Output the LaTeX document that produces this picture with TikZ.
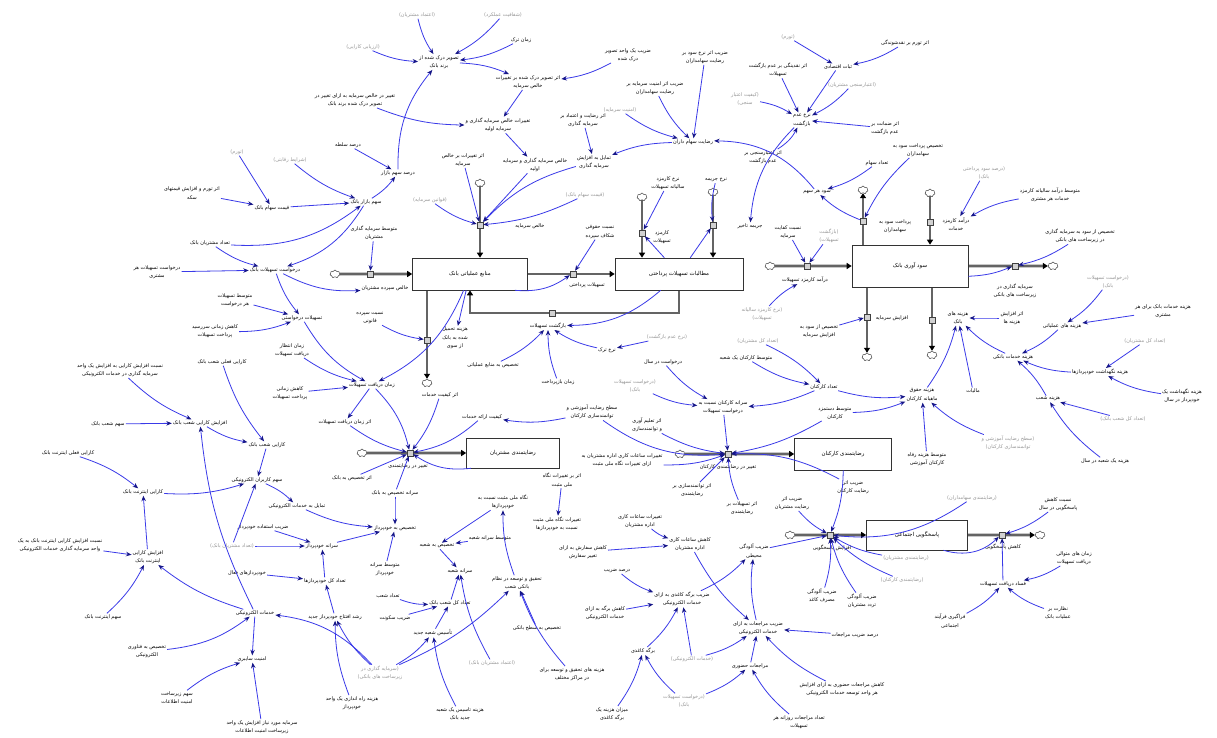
\documentclass[tikz,border=0pt]{standalone}
\usepackage{fontspec}
\usetikzlibrary{arrows.meta,shapes.symbols,backgrounds}
\TeXXeTstate=1
\newfontfamily\arabicfont[Script=Arabic]{DejaVu Sans}
\newcommand\cx[3]{\draw[lnk] (#1) to[bend left=#3] (#2);}
\definecolor{lnkc}{RGB}{58,58,232}
\definecolor{headc}{RGB}{22,22,135}
\definecolor{ghost}{RGB}{150,150,150}
\definecolor{pipec}{RGB}{100,100,100}
\tikzset{
  v/.style={font=\fontsize{5}{8.5}\selectfont\arabicfont, align=center, inner sep=1pt, text=black},
  gv/.style={v, text=ghost},
  stock/.style={draw=black!80, line width=0.6pt, fill=white, font=\fontsize{5.5}{7}\selectfont\arabicfont},
  pipe/.style={draw=pipec, line width=2.6pt, -{Triangle[length=5pt,width=6pt,color=black]}},
  valve/.style={draw=black!75, fill=black!18, minimum width=6pt, minimum height=6pt, inner sep=0pt, line width=0.5pt},
  cld/.style={cloud, cloud puffs=7, aspect=1.3, draw=black!75, fill=white, minimum width=10pt, minimum height=8pt, inner sep=0pt, line width=0.5pt},
  lnk/.style={draw=lnkc, line width=0.8pt, -{Stealth[length=5.5pt,width=4.5pt,color=headc]}},
}
\begin{document}
\begin{tikzpicture}[x=1pt,y=-1pt]
\useasboundingbox (0,0) rectangle (1217,738);

% ---------- stocks ----------
\node[stock, minimum width=115pt, minimum height=32pt] (S1) at (470,274) {\beginR منابع عملیاتی بانک\endR};
\node[stock, minimum width=128pt, minimum height=32pt] (S2) at (679,274) {\beginR مطالبات تسهیلات پرداختی\endR};
\node[stock, minimum width=116pt, minimum height=42pt] (S3) at (910,266) {\beginR سود آوری بانک\endR};
\node[stock, minimum width=93pt, minimum height=30pt] (S4) at (513,453) {\beginR رضایتمندی مشتریان\endR};
\node[stock, minimum width=97pt, minimum height=32pt] (S5) at (843,454) {\beginR رضایتمندی کارکنان\endR};
\node[stock, minimum width=101pt, minimum height=30pt] (S6) at (917,535) {\beginR پاسخگویی اجتماعی\endR};

% ---------- clouds ----------
\node[cld] (c1) at (335,274) {};
\node[cld] (c2) at (480,183) {};
\node[cld] (c3) at (427,383) {};
\node[cld] (c4) at (642,197) {};
\node[cld] (c5) at (713,192) {};
\node[cld] (c6) at (770,266) {};
\node[cld] (c7) at (863,190) {};
\node[cld] (c8) at (930,193) {};
\node[cld] (c9) at (1053,266) {};
\node[cld] (c10) at (867,357) {};
\node[cld] (c11) at (932,355) {};
\node[cld] (c12) at (362,453) {};
\node[cld] (c13) at (680,454) {};
\node[cld] (c14) at (790,535) {};
\node[cld] (c15) at (1040,535) {};

% ---------- valves ----------
\node[valve] (f1) at (370,274) {};
\node[valve] (f2) at (480,225) {};
\node[valve] (f3) at (427,340) {};
\node[valve] (f4) at (573,274) {};
\node[valve] (f5) at (552,313) {};
\node[valve] (f6) at (642,233) {};
\node[valve] (f7) at (713,225) {};
\node[valve] (f8) at (807,266) {};
\node[valve] (f9) at (863,221) {};
\node[valve] (f10) at (930,222) {};
\node[valve] (f11) at (1015,266) {};
\node[valve] (f12) at (867,317) {};
\node[valve] (f13) at (932,320) {};
\node[valve] (f14) at (410,453) {};
\node[valve] (f15) at (728,454) {};
\node[valve] (f16) at (830,535) {};
\node[valve] (f17) at (1002,535) {};

% ---------- pipes ----------
\begin{scope}[on background layer]
\fill[white] (0,0) rectangle (1217,738);
\draw[pipe] (c1) -- (S1);
\draw[pipe] (c2) -- (c2 |- S1.north);
\draw[pipe] (c3 |- S1.south) -- (c3);
\draw[pipe] (S1) -- (S2);
\draw[pipe] (S2.south) |- (f5.center) -| (S1.south);
\draw[pipe] (c4) -- (c4 |- S2.north);
\draw[pipe] (c5) -- (c5 |- S2.north);
\draw[pipe] (c6) -- (S3);
\draw[pipe] (c7 |- S3.north) -- (c7);
\draw[pipe] (c8) -- (c8 |- S3.north);
\draw[pipe] (S3) -- (c9);
\draw[pipe] (c10 |- S3.south) -- (c10);
\draw[pipe] (c11 |- S3.south) -- (c11);
\draw[pipe] (c12) -- (S4);
\draw[pipe] (c13) -- (S5);
\draw[pipe] (c14) -- (S6);
\draw[pipe] (S6) -- (c15);
\end{scope}

% ---------- flow names ----------
\node[v] (f1l) at (385,288) {\beginR خالص سپرده مشتریان\endR};
\node[v] (f2l) at (530,226) {\beginR خالص سرمایه\endR};
\node[v] (f3l) at (455,338) {\beginR هزینه تحمیل\endR\\\beginR شده به بانک\endR\\\beginR از سوی\endR};
\node[v] (f4l) at (587,285) {\beginR تسهیلات پرداختی\endR};
\node[v] (f5l) at (548,326) {\beginR بازگشت تسهیلات\endR};
\node[v] (f6l) at (662,237) {\beginR کارمزد\endR\\\beginR تسهیلات\endR};
\node[v] (f7l) at (750,226) {\beginR جریمه تاخیر\endR};
\node[v] (f8l) at (805,280) {\beginR درآمد کارمزد تسهیلات\endR};
\node[v] (f9l) at (895,226) {\beginR پرداخت سود به\endR\\\beginR سهامداران\endR};
\node[v] (f10l) at (956,224) {\beginR درآمد کارمزد\endR\\\beginR خدمات\endR};
\node[v] (f11l) at (1015,291) {\beginR سرمایه گذاری در\endR\\\beginR زیرساخت های بانکی\endR};
\node[v] (f12l) at (892,318) {\beginR افزایش سرمایه\endR};
\node[v] (f13l) at (958,318) {\beginR هزینه های\endR\\\beginR بانک\endR};
\node[v] (f14l) at (408,466) {\beginR تغییر در رضایتمندی\endR};
\node[v] (f15l) at (728,467) {\beginR تغییر در رضایتمندی کارکنان\endR};
\node[v] (f16l) at (832,548) {\beginR افزایش پاسخگویی\endR};
\node[v] (f17l) at (1003,547) {\beginR کاهش پاسخگویی\endR};

% ---------- auxiliaries: top left ----------
\node[gv] (g1) at (417,15) {\beginR (اعتماد مشتریان)\endR};
\node[gv] (g2) at (503,15) {\beginR (شفافیت عملکرد)\endR};
\node[gv] (g3) at (363,47) {\beginR (ارزیابی کارایی)\endR};
\node[v] (tzm) at (521,40) {\beginR زمان ترک\endR};
\node[v] (tsv) at (439,62) {\beginR تصویر درک شده از\endR\\\beginR برند بانک\endR};
\node[v] (eft) at (528,82) {\beginR اثر تصویر درک شده بر تغییرات\endR\\\beginR خالص سرمایه\endR};
\node[v] (zty) at (628,55) {\beginR ضریب یک واحد تصویر\endR\\\beginR درک شده\endR};
\node[v] (tgh) at (355,100) {\beginR تغییر در خالص سرمایه به ازای تغییر در\endR\\\beginR تصویر درک شده برند بانک\endR};
\node[v] (txs) at (498,125) {\beginR تغییرات خالص سرمایه گذاری و\endR\\\beginR سرمایه اولیه\endR};
\node[v] (err) at (583,120) {\beginR اثر رضایت و اعتماد بر\endR\\\beginR سرمایه گذاری\endR};
\node[v] (dsl) at (348,145) {\beginR درصد سلطه\endR};
\node[v] (dsb) at (398,173) {\beginR درصد سهم بازار\endR};
\node[gv] (g4) at (290,160) {\beginR (شرایط رقابتی)\endR};
\node[gv] (g5) at (237,152) {\beginR (تورم)\endR};
\node[v] (sbb) at (366,202) {\beginR سهم بازار بانک\endR};
\node[v] (eti) at (192,193) {\beginR اثر تورم و افزایش قیمتهای\endR\\\beginR سکه\endR};
\node[v] (qsb) at (272,208) {\beginR قیمت سهام بانک\endR};
\node[v] (etb) at (463,160) {\beginR اثر تغییرات بر خالص\endR\\\beginR سرمایه\endR};
\node[v] (xsa) at (535,165) {\beginR خالص سرمایه گذاری و سرمایه\endR\\\beginR اولیه\endR};
\node[v] (tam) at (594,162) {\beginR تمایل به افزایش\endR\\\beginR سرمایه گذاری\endR};
\node[gv] (g6) at (430,200) {\beginR (قوانین سرمایه)\endR};
\node[gv] (g7) at (585,195) {\beginR (قیمت سهام بانک)\endR};
\node[v] (nhs) at (600,232) {\beginR نسبت حقوقی\endR\\\beginR شکاف سپرده\endR};
\node[v] (msg) at (374,233) {\beginR متوسط سرمایه گذاری\endR\\\beginR مشتریان\endR};

% ---------- auxiliaries: top right ----------
\node[v] (zas) at (705,57) {\beginR ضریب اثر نرخ سود بر\endR\\\beginR رضایت سهامداران\endR};
\node[v] (zam) at (655,88) {\beginR ضریب اثر امنیت سرمایه بر\endR\\\beginR رضایت سهامداران\endR};
\node[gv] (g9) at (620,110) {\beginR (امنیت سرمایه)\endR};
\node[v] (rsh) at (693,142) {\beginR رضایت سهام داران\endR};
\node[v] (nks) at (668,183) {\beginR نرخ کارمزد\endR\\\beginR سالیانه تسهیلات\endR};
\node[v] (njr) at (716,180) {\beginR نرخ جریمه\endR};
\node[gv] (g10) at (788,37) {\beginR (تورم)\endR};
\node[v] (eto) at (905,43) {\beginR اثر تورم بر نقدشوندگی\endR};
\node[v] (sba) at (838,67) {\beginR ثبات اقتصادی\endR};
\node[v] (ena) at (778,70) {\beginR اثر نقدینگی بر عدم بازگشت\endR\\\beginR تسهیلات\endR};
\node[gv] (g11) at (745,99) {\beginR (کیفیت اعتبار\endR\\\beginR سنجی)\endR};
\node[gv] (g12) at (852,85) {\beginR (اعتبارسنجی مشتریان)\endR};
\node[v] (nab) at (802,120) {\beginR نرخ عدم\endR\\\beginR بازگشت\endR};
\node[v] (ezb) at (885,128) {\beginR اثر ضمانت بر\endR\\\beginR عدم بازگشت\endR};
\node[v] (eeb) at (763,157) {\beginR اثر اعتبارسنجی بر\endR\\\beginR عدم بازگشت\endR};
\node[v] (shs) at (817,192) {\beginR سود هر سهم\endR};
\node[v] (tes) at (877,163) {\beginR تعداد سهام\endR};
\node[v] (tps) at (918,150) {\beginR تخصیص پرداخت سود به\endR\\\beginR سهامداران\endR};
\node[gv] (g13) at (984,173) {\beginR (درصد سود پرداختی\endR\\\beginR بانک)\endR};
\node[v] (mdk) at (1050,195) {\beginR متوسط درآمد سالیانه کارمزد\endR\\\beginR خدمات هر مشتری\endR};
\node[v] (tzs) at (1080,236) {\beginR تخصیص از سود به سرمایه گذاری\endR\\\beginR در زیرساخت های بانکی\endR};
\node[v] (nks2) at (788,232) {\beginR نسبت کفایت\endR\\\beginR سرمایه\endR};
\node[gv] (g14) at (829,236) {\beginR (بازگشت\endR\\\beginR تسهیلات)\endR};

% ---------- auxiliaries: middle left ----------
\node[v] (tmb) at (210,243) {\beginR تعداد مشتریان بانک\endR};
\node[v] (dtb) at (275,270) {\beginR درخواست تسهیلات بانک\endR};
\node[v] (dth) at (157,272) {\beginR درخواست تسهیلات هر\endR\\\beginR مشتری\endR};
\node[v] (mth) at (235,300) {\beginR متوسط تسهیلات\endR\\\beginR هر درخواست\endR};
\node[v] (tdr) at (302,318) {\beginR تسهیلات درخواستی\endR};
\node[v] (kzs) at (215,331) {\beginR کاهش زمانی سررسید\endR\\\beginR پرداخت تسهیلات\endR};
\node[v] (zed) at (292,350) {\beginR زمان انتظار\endR\\\beginR دریافت تسهیلات\endR};
\node[v] (kzp) at (290,393) {\beginR کاهش زمانی\endR\\\beginR پرداخت تسهیلات\endR};
\node[v] (nsq) at (370,318) {\beginR نسبت سپرده\endR\\\beginR قانونی\endR};
\node[v] (zdt) at (372,385) {\beginR زمان دریافت تسهیلات\endR};
\node[v] (ezd) at (345,422) {\beginR اثر زمان دریافت تسهیلات\endR};
\node[v] (nak) at (120,370) {\beginR نسبت افزایش کارایی به افزایش یک واحد\endR\\\beginR سرمایه گذاری در خدمات الکترونیکی\endR};
\node[v] (kfs) at (222,362) {\beginR کارایی فعلی شعب بانک\endR};
\node[v] (aks) at (200,423) {\beginR افزایش کارایی شعب بانک\endR};
\node[v] (ssb) at (108,424) {\beginR سهم شعب بانک\endR};
\node[v] (kse) at (267,445) {\beginR کارایی شعب بانک\endR};
\node[v] (kfi) at (68,453) {\beginR کارایی فعلی اینترنت بانک\endR};
\node[v] (ske) at (257,480) {\beginR سهم کاربران الکترونیکی\endR};
\node[v] (kib) at (143,492) {\beginR کارایی اینترنت بانک\endR};

% ---------- auxiliaries: around the customer stock ----------
\node[v] (tmn) at (493,365) {\beginR تخصیص به منابع عملیاتی\endR};
\node[v] (zbp) at (558,382) {\beginR زمان بازپرداخت\endR};
\node[v] (nrt) at (607,350) {\beginR نرخ ترک\endR};
\node[v] (eks) at (440,395) {\beginR اثر کیفیت خدمات\endR};
\node[v] (kek) at (482,417) {\beginR کیفیت ارائه خدمات\endR};
\node[v] (srk) at (592,412) {\beginR سطح رضایت آموزشی و\endR\\\beginR توانمندسازی کارکنان\endR};
\node[v] (ets) at (352,478) {\beginR اثر تخصیص به بانک\endR};
\node[v] (stb) at (395,493) {\beginR سرانه تخصیص به بانک\endR};
\node[v] (nms) at (503,502) {\beginR نگاه ملی مثبت نسبت به\endR\\\beginR خودپردازها\endR};
\node[v] (ebn) at (562,480) {\beginR اثر بر تغییرات نگاه\endR\\\beginR ملی مثبت\endR};
\node[v] (tsk) at (622,460) {\beginR تغییرات ساعات کاری اداره مشتریان به\endR\\\beginR ازای تغییرات نگاه ملی مثبت\endR};

% ---------- auxiliaries: employees ----------
\node[gv] (g15) at (762,314) {\beginR (نرخ کارمزد سالیانه\endR\\\beginR تسهیلات)\endR};
\node[gv] (g17) at (758,341) {\beginR (تعداد کل مشتریان)\endR};
\node[v] (tas) at (819,331) {\beginR تخصیص از سود به\endR\\\beginR افزایش سرمایه\endR};
\node[gv] (g18) at (667,337) {\beginR (نرخ عدم بازگشت)\endR};
\node[v] (dds) at (663,362) {\beginR درخواست در سال\endR};
\node[v] (mkb) at (746,358) {\beginR متوسط کارکنان یک شعبه\endR};
\node[v] (tkk) at (824,387) {\beginR تعداد کارکنان\endR};
\node[gv] (g19) at (635,386) {\beginR (درخواست تسهیلات\endR\\\beginR بانک)\endR};
\node[v] (skn) at (723,407) {\beginR سرانه کارکنان نسبت به\endR\\\beginR درخواست تسهیلات\endR};
\node[v] (mdn) at (835,413) {\beginR متوسط دستمزد\endR\\\beginR کارکنان\endR};
\node[v] (eta) at (647,425) {\beginR اثر تعلیم آوری\endR\\\beginR و توانمندسازی\endR};
\node[v] (etr) at (692,490) {\beginR اثر توانمندسازی بر\endR\\\beginR رضایتمندی\endR};
\node[v] (zrk) at (853,487) {\beginR ضریب اثر\endR\\\beginR رضایت کارکنان\endR};

% ---------- auxiliaries: costs ----------
\node[gv] (g20) at (1108,282) {\beginR (درخواست تسهیلات\endR\\\beginR بانک)\endR};
\node[v] (hkh) at (1163,311) {\beginR هزینه خدمات بانک برای هر\endR\\\beginR مشتری\endR};
\node[v] (eah) at (1012,318) {\beginR اثر افزایش\endR\\\beginR هزینه ها\endR};
\node[v] (hao) at (1062,326) {\beginR هزینه های عملیاتی\endR};
\node[gv] (g21) at (1145,341) {\beginR (تعداد کل مشتریان)\endR};
\node[v] (hkb) at (1013,357) {\beginR هزینه خدمات بانکی\endR};
\node[v] (hnk) at (1100,372) {\beginR هزینه نگهداشت خودپردازها\endR};
\node[v] (hny) at (1182,396) {\beginR هزینه نگهداشت یک\endR\\\beginR خودپرداز در سال\endR};
\node[v] (hhk) at (922,395) {\beginR هزینه حقوق\endR\\\beginR ماهیانه کارکنان\endR};
\node[v] (mal) at (973,391) {\beginR مالیات\endR};
\node[v] (hsh) at (1048,399) {\beginR هزینه شعب\endR};
\node[gv] (g22) at (1123,419) {\beginR (تعداد کل شعب بانک)\endR};
\node[gv] (g23) at (1008,443) {\beginR (سطح رضایت آموزشی و\endR\\\beginR توانمندسازی کارکنان)\endR};
\node[v] (mhr) at (927,459) {\beginR متوسط هزینه رفاه\endR\\\beginR کارکنان آموزشی\endR};
\node[v] (hys) at (1105,461) {\beginR هزینه یک شعبه در سال\endR};

% ---------- auxiliaries: e-banking ----------
\node[v] (nki) at (60,545) {\beginR نسبت افزایش کارایی اینترنت بانک به یک\endR\\\beginR واحد سرمایه گذاری خدمات الکترونیکی\endR};
\node[v] (aki) at (148,557) {\beginR افزایش کارایی\endR\\\beginR اینترنت بانک\endR};
\node[v] (sib) at (103,617) {\beginR سهم اینترنت بانک\endR};
\node[v] (kel) at (255,613) {\beginR خدمات الکترونیکی\endR};
\node[v] (tfe) at (147,651) {\beginR تخصیص به فناوری\endR\\\beginR الکترونیکی\endR};
\node[v] (ams) at (252,659) {\beginR امنیت سایبری\endR};
\node[v] (szi) at (177,698) {\beginR سهم زیرساخت\endR\\\beginR امنیت اطلاعات\endR};
\node[v] (smn) at (262,727) {\beginR سرمایه مورد نیاز افزایش یک واحد\endR\\\beginR زیرساخت امنیت اطلاعات\endR};
\node[v] (khf) at (247,573) {\beginR خودپردازهای فعال\endR};
\node[gv] (g24) at (232,546) {\beginR (تعداد مشتریان بانک)\endR};
\node[v] (zek) at (263,527) {\beginR ضریب استفاده خودپرداز\endR};
\node[v] (tkl) at (297,506) {\beginR تمایل به خدمات الکترونیکی\endR};

% ---------- auxiliaries: branches and ATMs ----------
\node[v] (txp) at (395,528) {\beginR تخصیص به خودپرداز\endR};
\node[v] (tsh2) at (437,546) {\beginR تخصیص به شعبه\endR};
\node[v] (mss) at (490,538) {\beginR متوسط سرانه شعبه\endR};
\node[v] (skh) at (322,546) {\beginR سرانه خودپرداز\endR};
\node[v] (tkh) at (325,581) {\beginR تعداد کل خودپردازها\endR};
\node[v] (msk) at (385,569) {\beginR متوسط سرانه\endR\\\beginR خودپرداز\endR};
\node[v] (srs) at (460,571) {\beginR سرانه شعبه\endR};
\node[v] (ttn) at (517,583) {\beginR تحقیق و توسعه در نظام\endR\\\beginR بانکی شعب\endR};
\node[v] (tsb) at (388,596) {\beginR تعداد شعب\endR};
\node[v] (tks) at (450,603) {\beginR تعداد کل شعب بانک\endR};
\node[v] (zsk) at (395,618) {\beginR ضریب سکونت\endR};
\node[v] (rak) at (335,617) {\beginR رشد افتتاح خودپرداز جدید\endR};
\node[v] (tsbk) at (537,628) {\beginR تخصیص به سطح بانکی\endR};
\node[v] (tsj) at (433,633) {\beginR تأسیس شعبه جدید\endR};
\node[gv] (g25) at (380,673) {\beginR (سرمایه گذاری در\endR\\\beginR زیرساخت های بانکی)\endR};
\node[gv] (g26) at (492,663) {\beginR (اعتماد مشتریان بانک)\endR};
\node[v] (htt) at (572,674) {\beginR هزینه های تحقیق و توسعه برای\endR\\\beginR در مراکز مختلف\endR};
\node[v] (hrk) at (352,703) {\beginR هزینه راه اندازی یک واحد\endR\\\beginR خودپرداز\endR};
\node[v] (hts) at (460,714) {\beginR هزینه تاسیس یک شعبه\endR\\\beginR جدید بانک\endR};
\node[v] (tnm) at (557,524) {\beginR تغییرات نگاه ملی مثبت\endR\\\beginR نسبت به خودپردازها\endR};

% ---------- auxiliaries: social responsibility ----------
\node[v] (tsa) at (640,521) {\beginR تغییرات ساعات کاری\endR\\\beginR اداره مشتریان\endR};
\node[v] (ksa) at (690,544) {\beginR کاهش ساعات کاری\endR\\\beginR اداره مشتریان\endR};
\node[v] (kst) at (583,552) {\beginR کاهش سفارش به ازای\endR\\\beginR تغییر سفارش\endR};
\node[v] (zam2) at (754,551) {\beginR ضریب آلودگی\endR\\\beginR محیطی\endR};
\node[v] (dzr) at (617,571) {\beginR درصد ضریب\endR};
\node[v] (zbk) at (682,599) {\beginR ضریب برگه کاغذی به ازای\endR\\\beginR خدمات الکترونیکی\endR};
\node[v] (kbe) at (605,613) {\beginR کاهش برگه به ازای\endR\\\beginR خدمات الکترونیکی\endR};
\node[v] (zmk) at (758,628) {\beginR ضریب مراجعات به ازای\endR\\\beginR خدمات الکترونیکی\endR};
\node[v] (dzm) at (855,635) {\beginR درصد ضریب مراجعات\endR};
\node[v] (brk) at (643,651) {\beginR برگه کاغذی\endR};
\node[gv] (g27) at (692,659) {\beginR (خدمات الکترونیکی)\endR};
\node[v] (mhz) at (750,666) {\beginR مراجعات حضوری\endR};
\node[v] (kmh) at (842,689) {\beginR کاهش مراجعات حضوری به ازای افزایش\endR\\\beginR هر واحد توسعه خدمات الکترونیکی\endR};
\node[gv] (g28) at (684,701) {\beginR (درخواست تسهیلات\endR\\\beginR بانک)\endR};
\node[v] (tmr) at (799,722) {\beginR تعداد مراجعات روزانه هر\endR\\\beginR تسهیلات\endR};
\node[v] (mhy) at (612,714) {\beginR میزان هزینه یک\endR\\\beginR برگه کاغذی\endR};
\node[v] (zrm) at (792,503) {\beginR ضریب اثر\endR\\\beginR رضایت مشتریان\endR};
\node[v] (ets2) at (742,508) {\beginR اثر تسهیلات بر\endR\\\beginR رضایتمندی\endR};
\node[v] (zah) at (822,596) {\beginR ضریب آلودگی\endR\\\beginR مصرف کاغذ\endR};
\node[v] (zae) at (862,601) {\beginR ضریب آلودگی\endR\\\beginR تردد مشتریان\endR};
\node[gv] (g29) at (906,558) {\beginR (رضایتمندی مشتریان)\endR};
\node[gv] (g30) at (902,580) {\beginR (رضایتمندی کارکنان)\endR};
\node[gv] (g31) at (972,498) {\beginR (رضایتمندی سهامداران)\endR};
\node[v] (nkp) at (1058,504) {\beginR نسبت کاهش\endR\\\beginR پاسخگویی در سال\endR};
\node[v] (zmd) at (1074,558) {\beginR زمان های متوالی\endR\\\beginR دریافت تسهیلات\endR};
\node[v] (fdt) at (1003,584) {\beginR فساد دریافت تسهیلات\endR};
\node[v] (ffa) at (950,621) {\beginR فراگیری فرآیند\endR\\\beginR اجتماعی\endR};
\node[v] (nob) at (1058,613) {\beginR نظارت بر\endR\\\beginR عملیات بانک\endR};

% ---------- links: image and capital ----------
\cx{g1}{tsv}{-10}
\cx{g2}{tsv}{10}
\cx{tzm}{tsv}{10}
\cx{g3}{tsv}{-10}
\cx{tsv}{eft}{10}
\cx{zty}{eft}{10}
\cx{eft}{txs}{0}
\cx{tgh}{txs}{-10}
\cx{txs}{xsa}{0}
\cx{err}{tam}{0}
\cx{xsa}{f2}{0}
\cx{etb}{f2}{0}
\cx{tam}{f2}{-15}
\cx{g7}{f2}{10}
\cx{g6}{f2}{-10}
\cx{dsb}{tsv}{20}
\cx{dsl}{dsb}{0}
\cx{sbb}{dsb}{-10}
\cx{g4}{sbb}{-10}
\cx{qsb}{sbb}{0}
\cx{g5}{qsb}{0}
\cx{eti}{qsb}{0}
\cx{tmb}{sbb}{-20}
\cx{sbb}{dtb}{20}
\cx{msg}{f1}{0}
\cx{dtb}{f1l}{-15}

% ---------- links: shareholders and repayment ----------
\cx{zas}{rsh}{0}
\cx{zam}{rsh}{-10}
\cx{g9}{rsh}{-10}
\cx{rsh}{tam}{-10}
\cx{shs}{rsh}{-25}
\cx{g10}{sba}{0}
\cx{eto}{sba}{10}
\cx{ena}{nab}{0}
\cx{sba}{nab}{0}
\cx{g12}{nab}{10}
\cx{ezb}{nab}{0}
\cx{eeb}{nab}{-15}
\cx{g11}{nab}{10}
\cx{nab}{f7l}{-20}
\cx{tes}{shs}{10}
\cx{f9}{shs}{10}
\cx{tps}{f9}{-10}
\cx{g13}{f10l}{0}
\cx{mdk}{f10l}{-10}
\cx{tzs}{f11}{10}
\cx{nks}{f6}{0}
\cx{njr}{f7}{-10}
\cx{S2}{f6}{0}
\cx{S2}{f7}{0}
\cx{nks2}{f8}{0}
\cx{g14}{f8}{0}
\cx{g15}{f8l}{10}
\cx{S3}{f11}{-10}
\cx{tas}{f12}{0}

% ---------- links: loans and customers ----------
\cx{tmb}{dtb}{-10}
\cx{dth}{dtb}{0}
\cx{dtb}{tdr}{-10}
\cx{mth}{tdr}{0}
\cx{kzs}{tdr}{-10}
\cx{tdr}{zdt}{-15}
\cx{zed}{zdt}{-10}
\cx{kzp}{zdt}{0}
\cx{S1}{zdt}{20}
\cx{nsq}{f3}{-10}
\cx{S1}{f3l}{0}
\cx{zdt}{ezd}{0}
\cx{zdt}{f14}{15}
\cx{ezd}{f14}{-10}
\cx{eks}{f14}{10}
\cx{kek}{f14}{15}
\cx{S4}{f14}{20}
\cx{ets}{f14}{0}
\cx{stb}{f14}{0}
\cx{srk}{kek}{10}
\cx{tmn}{f5l}{-10}
\cx{zbp}{f5l}{10}
\cx{nrt}{f5l}{10}
\cx{S2}{f5l}{20}
\cx{S1}{f4}{-20}
\cx{nhs}{f4}{0}
\cx{g18}{nrt}{0}

% ---------- links: efficiency ----------
\cx{nak}{aks}{-10}
\cx{ssb}{aks}{0}
\cx{kfs}{kse}{-10}
\cx{aks}{kse}{-10}
\cx{kse}{ske}{0}
\cx{kfi}{kib}{10}
\cx{kib}{ske}{-10}
\cx{kel}{aks}{10}
\cx{kel}{aki}{10}
\cx{aki}{kib}{0}
\cx{nki}{aki}{0}
\cx{sib}{aki}{-10}
\cx{tfe}{kel}{-15}
\cx{kel}{ams}{0}
\cx{szi}{ams}{10}
\cx{smn}{ams}{0}
\cx{g24}{ske}{0}
\cx{ske}{tkl}{10}
\cx{g24}{skh}{0}
\cx{zek}{skh}{0}
\cx{khf}{tkh}{0}
\cx{g25}{kel}{-20}

% ---------- links: branches and ATMs ----------
\cx{tkh}{skh}{0}
\cx{skh}{txp}{0}
\cx{tkl}{txp}{-10}
\cx{msk}{txp}{0}
\cx{stb}{txp}{0}
\cx{nms}{tsh2}{0}
\cx{mss}{tsh2}{0}
\cx{tsh2}{srs}{0}
\cx{tks}{srs}{0}
\cx{g26}{srs}{10}
\cx{tsj}{tks}{0}
\cx{tsb}{tks}{-10}
\cx{zsk}{tks}{0}
\cx{hts}{tsj}{10}
\cx{g25}{tsj}{-10}
\cx{g25}{ttn}{-10}
\cx{tsbk}{ttn}{0}
\cx{htt}{ttn}{10}
\cx{ttn}{nms}{10}
\cx{rak}{tkh}{0}
\cx{hrk}{rak}{10}
\cx{g25}{rak}{10}
\cx{ebn}{tnm}{0}

% ---------- links: social responsibility ----------
\cx{kst}{ksa}{0}
\cx{tsa}{ksa}{-10}
\cx{dzr}{zbk}{-10}
\cx{kbe}{zbk}{0}
\cx{brk}{zbk}{-10}
\cx{g27}{zbk}{0}
\cx{g27}{zmk}{-10}
\cx{mhz}{zmk}{0}
\cx{kmh}{zmk}{10}
\cx{dzm}{zmk}{0}
\cx{mhy}{brk}{-10}
\cx{g28}{brk}{10}
\cx{g28}{mhz}{-10}
\cx{tmr}{mhz}{10}
\cx{ksa}{zmk}{-10}
\cx{zbk}{zam2}{-10}
\cx{zmk}{zam2}{10}
\cx{zam2}{f16}{0}
\cx{zah}{f16}{-10}
\cx{zae}{f16}{10}
\cx{g29}{f16}{10}
\cx{g30}{f16}{10}
\cx{zrm}{f16}{-10}
\cx{g31}{f16}{20}
\cx{S5}{f16}{10}
\cx{ffa}{fdt}{-10}
\cx{nob}{fdt}{10}
\cx{zmd}{fdt}{10}
\cx{fdt}{f17}{0}
\cx{nkp}{f17}{10}
\cx{S6}{f17}{-30}

% ---------- links: employees ----------
\cx{mkb}{tkk}{-10}
\cx{g17}{tkk}{10}
\cx{tkk}{skn}{10}
\cx{dds}{skn}{-10}
\cx{g19}{skn}{-10}
\cx{skn}{f15}{0}
\cx{srk}{f15}{-20}
\cx{eta}{f15}{-10}
\cx{mdn}{f15}{10}
\cx{zrk}{f15}{-15}
\cx{etr}{f15}{0}
\cx{ets2}{f15}{10}
\cx{tsk}{f15}{-10}
\cx{tkk}{hhk}{-10}
\cx{mdn}{hhk}{-10}

% ---------- links: costs ----------
\cx{eah}{f13l}{0}
\cx{hkb}{f13l}{10}
\cx{hhk}{f13l}{-10}
\cx{mal}{f13l}{0}
\cx{hkh}{hao}{0}
\cx{g20}{hao}{10}
\cx{hao}{hkb}{10}
\cx{hnk}{hkb}{10}
\cx{hny}{hnk}{10}
\cx{g21}{hnk}{0}
\cx{hsh}{hkb}{-10}
\cx{g22}{hsh}{0}
\cx{hys}{hsh}{10}
\cx{g23}{hhk}{10}
\cx{mhr}{hhk}{0}
\end{tikzpicture}
\end{document}
